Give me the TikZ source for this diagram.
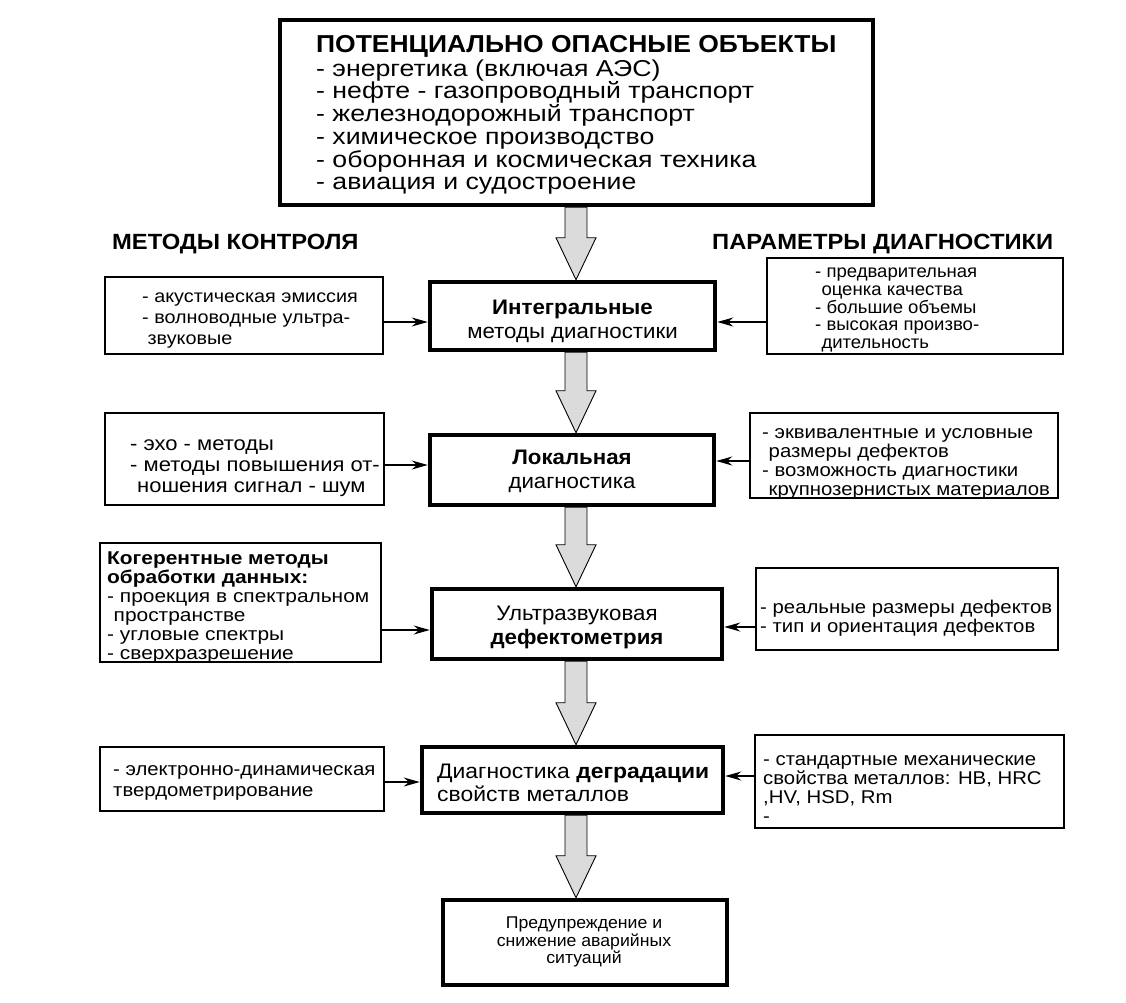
\documentclass[tikz,border=0pt]{standalone}
\usepackage{fontspec}
\setmainfont{Liberation Sans}
\usetikzlibrary{arrows.meta,calc}
\newcommand{\fsz}[3]{\fontsize{#1}{#2}\selectfont\addfontfeature{FakeStretch=#3}}
\tikzset{
  thickbox/.style={draw=black, line width=4.5pt, fill=white, inner sep=0pt},
  thinbox/.style={draw=black, line width=1.8pt, fill=white, inner sep=0pt},
  sidetxt/.style={anchor=west, align=left, inner sep=0pt},
  midtxt/.style={align=center, inner sep=0pt, font=\fsz{21}{24}{1.06}},
  headtxt/.style={anchor=west, inner sep=0pt, font=\fsz{22}{26}{1.08}\bfseries},
  sidearrow/.style={draw=black, line width=1.6pt, -{Stealth[length=16pt,width=9pt]}},
  bigarrow/.style={draw=black, line width=0.9pt, fill=gray!28},
}
\newcommand{\bigarr}[2]{%
  \path let \p1=(#1.south), \p2=(#2.north) in
    [bigarrow] (565pt,\y1) -- (565pt,\y2+42pt) -- (556pt,\y2+42pt) -- (576pt,\y2)
    -- (596pt,\y2+42pt) -- (587pt,\y2+42pt) -- (587pt,\y1) -- cycle;}
\begin{document}
\begin{tikzpicture}[x=1pt,y=-1pt]
\useasboundingbox (0,0) rectangle (1126,1002);
% central column
\node[thickbox, minimum width=593pt, minimum height=185pt] (top) at (576.5,112.5) {};
\node[anchor=west, align=left, inner sep=0pt, font=\fsz{23}{22.7}{1.16}] (toptxt) at (316,115)
 {{\fsz{24.5}{26}{1.08}\bfseries ПОТЕНЦИАЛЬНО ОПАСНЫЕ ОБЪЕКТЫ}\\[1pt]
  - энергетика (включая АЭС)\\
  - нефте - газопроводный транспорт\\
  - железнодорожный транспорт\\
  - химическое производство\\
  - оборонная и космическая техника\\
  - авиация и судостроение};

\node[thickbox, minimum width=285pt, minimum height=68pt] (int) at (572.5,316) {};
\node[midtxt] (inttxt) at (572.5,321) {\textbf{Интегральные}\\методы диагностики};

\node[thickbox, minimum width=284pt, minimum height=70pt] (loc) at (572,470) {};
\node[midtxt] (loctxt) at (572,471) {\textbf{Локальная}\\диагностика};

\node[thickbox, minimum width=290pt, minimum height=70pt] (ult) at (577,624) {};
\node[midtxt] (ulttxt) at (577,627) {Ультразвуковая\\\textbf{дефектометрия}};

\node[thickbox, minimum width=301pt, minimum height=66pt] (deg) at (572.5,780) {};
\node[anchor=west, align=left, inner sep=0pt, font=\fsz{21}{23}{1.09}] (degtxt) at (437,783) {Диагностика \textbf{деградации}\\свойств металлов};

\node[thickbox, minimum width=284pt, minimum height=85pt] (warn) at (585,942.5) {};
\node[align=center, inner sep=0pt, font=\fsz{17}{17.5}{1.04}] (warntxt) at (584,942) {Предупреждение и\\снижение аварийных\\ситуаций};

% headings
\node[headtxt] (hleft) at (112,244) {МЕТОДЫ КОНТРОЛЯ};
\node[headtxt] (hright) at (712,244) {ПАРАМЕТРЫ ДИАГНОСТИКИ};

% left boxes
\node[thinbox, minimum width=278pt, minimum height=77pt] (l1) at (244,315.5) {};
\node[sidetxt, font=\fsz{18}{21}{1.1}] (l1t) at (142,321) {- акустическая эмиссия\\- волноводные ультра-\\\hspace*{0.3em}звуковые};

\node[thinbox, minimum width=279pt, minimum height=92pt] (l2) at (244.5,459) {};
\node[sidetxt, font=\fsz{20}{21}{1.1}] (l2t) at (130,468) {- эхо - методы\\- методы повышения от-\\\hspace*{0.35em}ношения сигнал - шум};

\node[thinbox, minimum width=281pt, minimum height=119pt] (l3) at (240.5,602.5) {};
\node[sidetxt, font=\fsz{18.5}{19}{1.13}] (l3t) at (107,608) {\textbf{Когерентные методы}\\\textbf{обработки данных:}\\- проекция в спектральном\\\hspace*{0.35em}пространстве\\- угловые спектры\\- сверхразрешение};

\node[thinbox, minimum width=284pt, minimum height=64pt] (l4) at (242,779) {};
\node[sidetxt, font=\fsz{18.5}{21}{1.1}] (l4t) at (113,783) {- электронно-динамическая\\твердометрирование};

% right boxes
\node[thinbox, minimum width=296pt, minimum height=96pt] (r1) at (915,306) {};
\node[sidetxt, font=\fsz{18}{17.6}{1.03}] (r1t) at (815,310) {- предварительная\\\hspace*{0.35em}оценка качества\\- большие объемы\\- высокая произво-\\\hspace*{0.35em}дительность};

\node[thinbox, minimum width=308pt, minimum height=85pt] (r2) at (904,455.5) {};
\node[sidetxt, font=\fsz{18.5}{19}{1.1}] (r2t) at (762,464) {- эквивалентные и условные\\\hspace*{0.35em}размеры дефектов\\- возможность диагностики\\\hspace*{0.35em}крупнозернистых материалов};

\node[thinbox, minimum width=302pt, minimum height=82pt] (r3) at (907,609) {};
\node[sidetxt, font=\fsz{18.5}{19}{1.1}] (r3t) at (760,618) {- реальные размеры дефектов\\- тип и ориентация дефектов};

\node[thinbox, minimum width=309pt, minimum height=93pt] (r4) at (909.5,781.5) {};
\node[sidetxt, font=\fsz{18.5}{18.8}{1.1}] (r4t) at (763,789) {- стандартные механические\\свойства металлов: HB, HRC\\,HV, HSD, Rm\\-};

% big arrows
\bigarr{top}{int}
\bigarr{int}{loc}
\bigarr{loc}{ult}
\bigarr{ult}{deg}
\bigarr{deg}{warn}

% side arrows
\draw[sidearrow] (l1.east |- 0,322) -- (int.west |- 0,322);
\draw[sidearrow] (r1.west |- 0,322) -- (int.east |- 0,322);
\draw[sidearrow] (l2.east |- 0,465) -- (loc.west |- 0,465);
\draw[sidearrow] (r2.west |- 0,461) -- (loc.east |- 0,461);
\draw[sidearrow] (l3.east |- 0,630) -- (ult.west |- 0,630);
\draw[sidearrow] (r3.west |- 0,627) -- (ult.east |- 0,627);
\draw[sidearrow] (l4.east |- 0,782) -- (deg.west |- 0,782);
\draw[sidearrow] (r4.west |- 0,776) -- (deg.east |- 0,776);
\end{tikzpicture}
\end{document}
